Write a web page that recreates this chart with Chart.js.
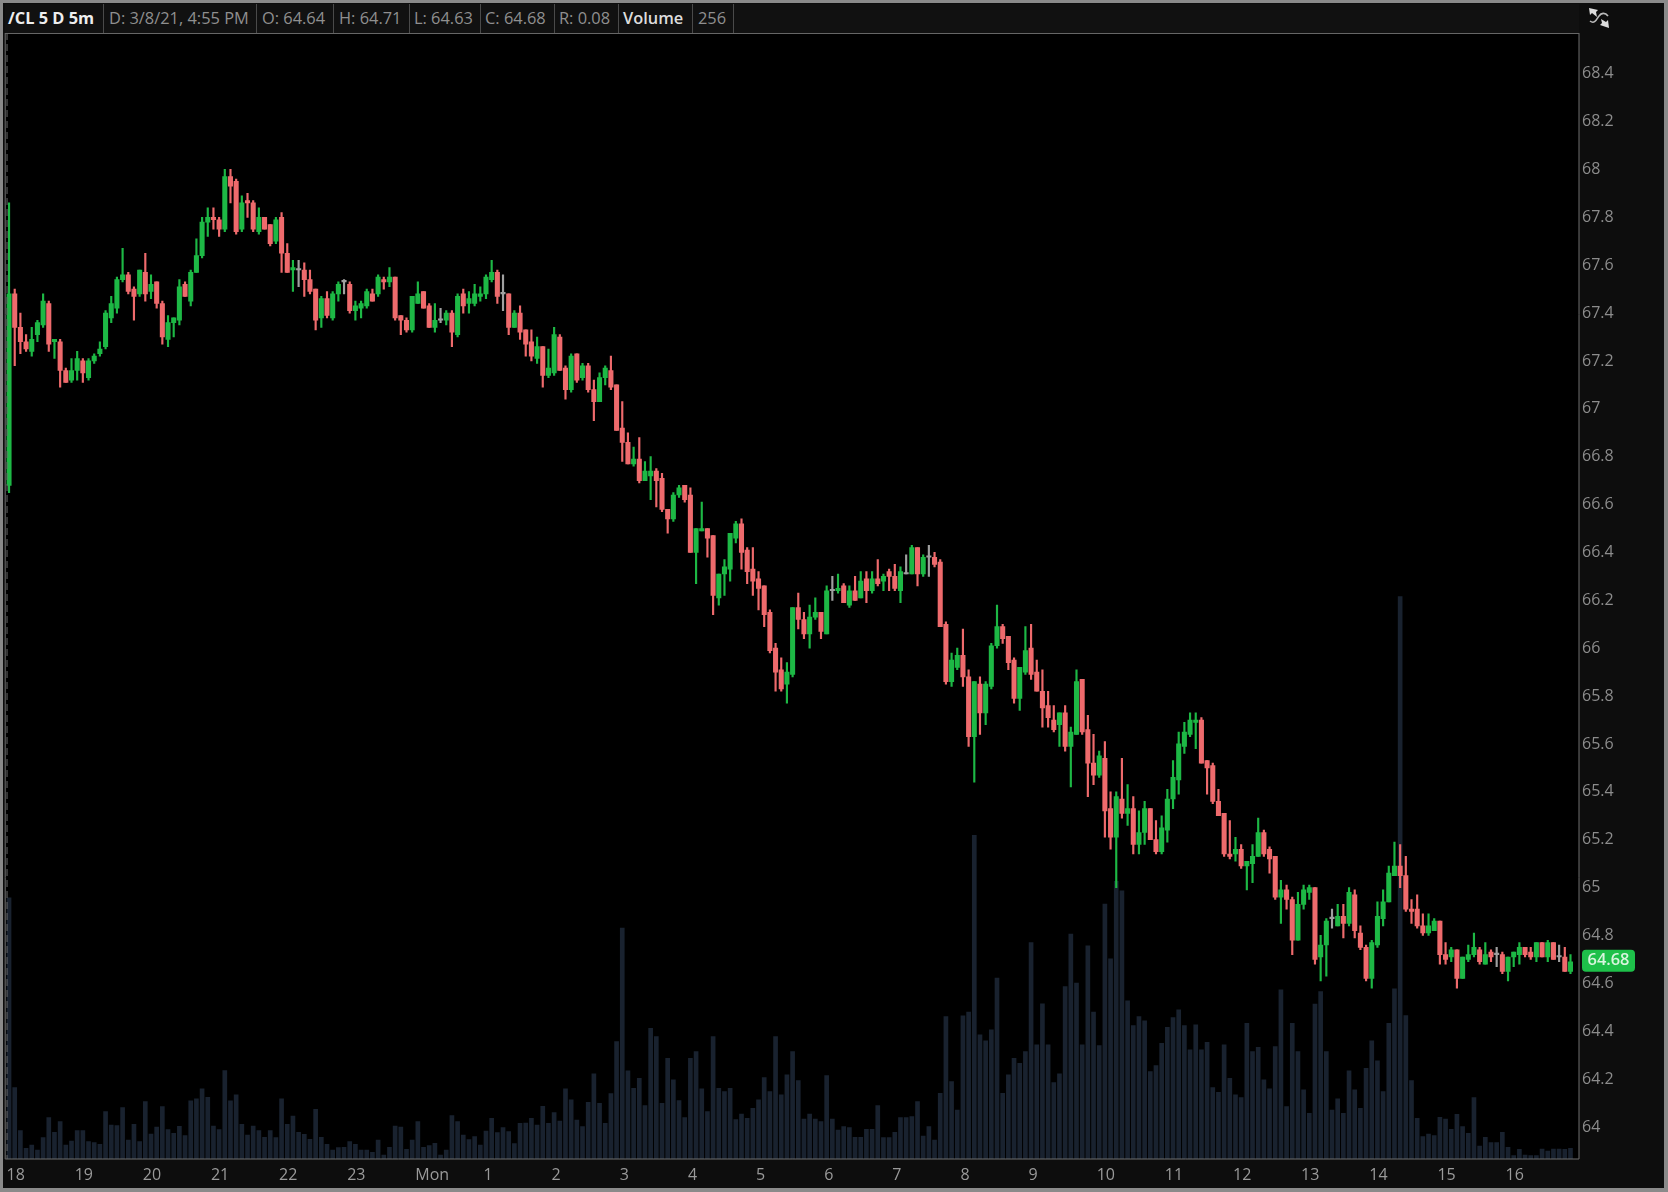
<!DOCTYPE html>
<html>
<head>
<meta charset="utf-8">
<title>/CL 5 D 5m</title>
<script src="https://cdn.jsdelivr.net/npm/chart.js@4"></script>
<style>
    html, body { margin: 0; padding: 0; width: 1668px; height: 1192px; overflow: hidden; background: #8a8a8a; }
    #tela { position: absolute; left: 0; top: 0; width: 1668px; height: 1192px; filter: blur(0.7px); }
    #painel { position: absolute; left: 3px; top: 3px; width: 1661px; height: 1185px; background: #0d0d0d; }
    #grafico { position: absolute; left: 0; top: 0; }
    #cabecalho { position: absolute; left: 5px; top: 4px; width: 1574px; height: 29px; background: #111; border-bottom: 1px solid #666;
        font: 16.4px "Open Sans", sans-serif; color: #8f8f8f; }
    #cabecalho span { position: absolute; top: 0; height: 29px; line-height: 27px; white-space: nowrap; }
    #cabecalho i { position: absolute; top: 0; width: 1px; height: 29px; background: #4a4a4a; }
    #cabecalho .forte { color: #eee; font-weight: 700; }
    #cabecalho .claro { color: #ddd; font-weight: 600; }
    #icone { position: absolute; left: 1583px; top: 4px; }
</style>
</head>
<body>
<div id="tela">
    <div id="painel"></div>
    <canvas id="grafico" width="1668" height="1192"></canvas>
    <div id="cabecalho">
        <span class="forte" style="left:3px">/CL 5 D 5m</span><i style="left:98px"></i>
        <span style="left:104px">D: 3/8/21, 4:55 PM</span><i style="left:251px"></i>
        <span style="left:257px">O: 64.64</span><i style="left:328px"></i>
        <span style="left:334px">H: 64.71</span><i style="left:404px"></i>
        <span style="left:409px">L: 64.63</span><i style="left:475px"></i>
        <span style="left:480px">C: 64.68</span><i style="left:549px"></i>
        <span style="left:554px">R: 0.08</span><i style="left:613px"></i>
        <span class="claro" style="left:618px">Volume</span><i style="left:687px"></i>
        <span style="left:693px">256</span><i style="left:728px"></i>
    </div>
    <svg id="icone" width="32" height="28" viewBox="0 0 32 28">
        <path d="M7 17 C12 21 14 14 16 12 C18 9 22 8 25 12" fill="none" stroke="#bbb" stroke-width="1.6"/>
        <path d="M6 4 L15 6 L13 8 L14 13 L9 9 L7 11 Z" fill="#ddd"/>
        <path d="M26 24 L17 21 L19 19 L18 15 L23 18 L25 16 Z" fill="#ddd"/>
    </svg>
</div>
<script>
// Dados: um grupo de 12 candles por hora
const rotulosHora = ['18', '19', '20', '21', '22', '23', 'Mon', '1', '2', '3', '4', '5', '6', '7', '8', '9', '10', '11', '12', '13', '14', '15', '16'];
const ticksPreco = [68.4, 68.2, 68, 67.8, 67.6, 67.4, 67.2, 67, 66.8, 66.6, 66.4, 66.2, 66, 65.8, 65.6, 65.4, 65.2, 65, 64.8, 64.6, 64.4, 64.2, 64];

const aberturas = [
    66.67,67.47,67.33,67.27,67.23,67.30,67.34,67.43,67.27,67.27,67.15,67.11,
    67.15,67.19,67.12,67.19,67.22,67.25,67.37,67.41,67.53,67.55,67.49,67.47,
    67.56,67.48,67.52,67.43,67.28,67.35,67.36,67.51,67.44,67.56,67.63,67.77,
    67.79,67.78,67.74,67.96,67.94,67.74,67.86,67.85,67.73,67.79,67.76,67.69,
    67.79,67.64,67.57,67.57,67.57,67.53,67.49,67.37,67.45,67.37,67.47,67.52,
    67.51,67.40,67.41,67.42,67.47,67.47,67.53,67.52,67.54,67.38,67.36,67.32,
    67.43,67.48,67.42,67.33,67.36,67.36,67.39,67.30,67.47,67.43,67.43,67.46,
    67.47,67.53,67.56,67.47,67.47,67.33,67.39,67.32,67.27,67.20,67.25,67.13,
    67.14,67.29,67.16,67.07,67.22,67.12,67.17,67.07,67.02,67.12,67.15,67.09,
    66.91,66.85,66.76,66.78,66.69,66.71,66.73,66.70,66.57,66.53,66.63,66.67,
    66.63,66.39,66.48,66.49,66.46,66.20,66.30,66.32,66.45,66.51,66.40,66.32,
    66.28,66.25,66.14,65.99,65.90,65.84,65.88,66.16,66.11,66.05,66.12,66.14,
    66.05,66.23,66.23,66.25,66.17,66.23,66.20,66.28,66.23,66.28,66.27,66.31,
    66.29,66.23,66.30,66.30,66.41,66.30,66.37,66.37,66.35,66.09,65.85,65.91,
    65.96,65.87,65.62,65.84,65.72,65.83,66.00,66.08,66.04,65.94,65.78,65.89,
    65.99,65.89,65.81,65.75,65.69,65.67,65.72,65.58,65.63,65.86,65.65,65.51,
    65.46,65.53,65.32,65.20,65.36,65.30,65.32,65.17,65.22,65.32,65.19,65.14,
    65.23,65.36,65.44,65.58,65.63,65.68,65.69,65.52,65.50,65.35,65.30,65.13,
    65.13,65.15,65.08,65.09,65.12,65.22,65.15,65.12,64.95,64.98,64.94,64.77,
    64.92,64.97,64.99,64.70,64.75,64.86,64.83,64.87,64.84,64.96,64.80,64.74,
    64.61,64.75,64.86,64.93,65.04,65.08,65.04,64.90,64.90,64.83,64.80,64.81,
    64.85,64.71,64.70,64.73,64.61,64.69,64.71,64.73,64.67,64.72,64.71,64.71,
    64.64,64.70,64.71,64.74,64.72,64.70,64.76,64.70,64.76,64.70,64.70,64.64
];
const maximas = [
    67.85,67.49,67.39,67.30,67.33,67.36,67.47,67.44,67.28,67.28,67.16,67.20,
    67.23,67.20,67.20,67.22,67.27,67.40,67.46,67.54,67.66,67.56,67.50,67.57,
    67.64,67.55,67.52,67.44,67.38,67.37,67.53,67.52,67.57,67.70,67.79,67.83,
    67.83,67.79,67.99,67.99,67.95,67.88,67.89,67.86,67.83,67.79,67.76,67.79,
    67.81,67.68,67.61,67.61,67.60,67.57,67.49,67.46,67.48,67.48,67.52,67.53,
    67.52,67.44,67.44,67.49,67.49,67.55,67.54,67.58,67.54,67.38,67.37,67.46,
    67.52,67.48,67.43,67.43,67.41,67.40,67.40,67.47,67.49,67.48,67.51,67.50,
    67.55,67.61,67.57,67.55,67.47,67.40,67.42,67.32,67.32,67.29,67.25,67.24,
    67.33,67.30,67.17,67.22,67.22,67.18,67.18,67.11,67.14,67.17,67.21,67.09,
    67.02,66.89,66.83,66.87,66.77,66.79,66.74,66.72,66.57,66.64,66.67,66.67,
    66.66,66.49,66.60,66.49,66.46,66.30,66.36,66.47,66.52,66.53,66.41,66.41,
    66.31,66.25,66.15,66.01,65.95,65.93,66.16,66.22,66.14,66.17,66.20,66.14,
    66.25,66.29,66.30,66.26,66.25,66.29,66.31,66.31,66.31,66.36,66.30,66.32,
    66.34,66.33,66.38,66.42,66.41,66.38,66.42,66.39,66.36,66.10,65.97,65.99,
    66.07,65.90,65.85,65.87,65.85,66.01,66.17,66.09,66.04,65.95,65.91,66.08,
    66.09,65.94,65.90,65.81,65.75,65.72,65.75,65.66,65.90,65.86,65.71,65.63,
    65.56,65.60,65.39,65.39,65.53,65.42,65.37,65.31,65.35,65.32,65.27,65.29,
    65.40,65.52,65.64,65.68,65.72,65.72,65.70,65.52,65.51,65.40,65.30,65.27,
    65.20,65.17,65.10,65.17,65.28,65.23,65.16,65.12,65.02,65.00,64.95,64.97,
    65.00,65.00,64.99,64.79,64.86,64.90,64.92,64.92,64.99,64.98,64.83,64.75,
    64.77,64.93,64.98,65.08,65.18,65.17,65.12,64.94,64.96,64.88,64.88,64.86,
    64.85,64.76,64.74,64.73,64.70,64.75,64.80,64.74,64.76,64.73,64.74,64.72,
    64.70,64.72,64.76,64.74,64.74,64.76,64.76,64.77,64.76,64.75,64.74,64.71
];
const minimas = [
    66.64,67.17,67.22,67.23,67.21,67.27,67.33,67.23,67.20,67.08,67.10,67.10,
    67.11,67.10,67.11,67.18,67.21,67.24,67.35,67.39,67.52,67.47,67.36,67.46,
    67.44,67.45,67.41,67.26,67.25,67.29,67.34,67.46,67.42,67.56,67.62,67.71,
    67.74,67.71,67.73,67.85,67.72,67.73,67.79,67.73,67.72,67.74,67.67,67.68,
    67.56,67.56,67.48,67.50,67.46,67.47,67.32,67.33,67.37,67.36,67.44,67.47,
    67.39,67.36,67.37,67.41,67.44,67.46,67.49,67.50,67.36,67.30,67.31,67.31,
    67.43,67.41,67.33,67.31,67.35,67.34,67.25,67.29,67.39,67.39,67.42,67.44,
    67.45,67.52,67.43,67.40,67.30,67.33,67.28,67.21,67.19,67.18,67.08,67.12,
    67.13,67.15,67.03,67.06,67.10,67.11,67.06,66.94,67.02,67.09,67.07,66.90,
    66.77,66.76,66.75,66.68,66.69,66.61,66.58,66.56,66.47,66.52,66.62,66.60,
    66.39,66.26,66.48,66.37,66.13,66.17,66.21,66.27,66.43,66.32,66.26,66.21,
    66.15,66.08,65.97,65.81,65.81,65.76,65.87,66.07,66.03,65.99,66.11,66.03,
    66.05,66.19,66.22,66.18,66.16,66.19,66.20,66.18,66.22,66.25,66.23,66.23,
    66.23,66.18,66.30,66.30,66.25,66.29,66.29,66.33,66.08,65.84,65.83,65.90,
    65.83,65.58,65.43,65.63,65.67,65.82,65.99,66.01,65.90,65.76,65.73,65.88,
    65.86,65.81,65.66,65.66,65.64,65.58,65.56,65.41,65.63,65.63,65.37,65.42,
    65.45,65.20,65.15,64.99,65.28,65.25,65.13,65.13,65.17,65.19,65.13,65.13,
    65.18,65.32,65.38,65.55,65.62,65.57,65.51,65.38,65.34,65.29,65.12,65.11,
    65.10,65.07,64.98,65.01,65.12,65.12,65.05,64.94,64.84,64.90,64.71,64.77,
    64.90,64.94,64.67,64.60,64.62,64.82,64.83,64.78,64.83,64.78,64.73,64.60,
    64.57,64.74,64.83,64.93,65.04,64.99,64.89,64.84,64.82,64.79,64.79,64.81,
    64.67,64.67,64.68,64.57,64.61,64.68,64.70,64.67,64.67,64.68,64.66,64.63,
    64.60,64.66,64.67,64.70,64.69,64.68,64.70,64.68,64.69,64.68,64.64,64.63
];
const fechamentos = [
    67.47,67.33,67.27,67.24,67.28,67.35,67.44,67.26,67.28,67.15,67.10,67.15,
    67.20,67.14,67.19,67.21,67.24,67.39,67.43,67.53,67.55,67.48,67.46,67.57,
    67.47,67.51,67.43,67.29,67.35,67.37,67.50,67.46,67.56,67.63,67.77,67.79,
    67.78,67.74,67.96,67.92,67.73,67.85,67.85,67.74,67.79,67.74,67.68,67.78,
    67.64,67.56,67.58,67.57,67.53,67.48,67.36,67.45,67.38,67.47,67.51,67.52,
    67.40,67.42,67.43,67.48,67.44,67.54,67.52,67.54,67.37,67.36,67.32,67.46,
    67.47,67.41,67.33,67.36,67.36,67.39,67.31,67.46,67.42,67.45,67.47,67.47,
    67.54,67.56,67.46,67.47,67.33,67.39,67.31,67.26,67.21,67.25,67.13,67.16,
    67.30,67.15,67.07,67.21,67.11,67.17,67.07,67.02,67.12,67.16,67.08,66.90,
    66.85,66.76,66.78,66.69,66.73,66.73,66.69,66.57,66.53,66.63,66.66,66.61,
    66.39,66.49,66.49,66.45,66.21,66.30,66.33,66.47,66.51,66.39,66.31,66.27,
    66.24,66.13,65.98,65.89,65.82,65.89,66.16,66.11,66.05,66.12,66.14,66.06,
    66.23,66.23,66.24,66.18,66.23,66.19,66.27,66.23,66.28,66.26,66.29,66.29,
    66.24,66.31,66.30,66.41,66.30,66.37,66.37,66.34,66.08,65.85,65.94,65.96,
    65.87,65.62,65.85,65.72,65.84,66.00,66.08,66.03,65.93,65.78,65.91,65.98,
    65.88,65.81,65.74,65.70,65.65,65.72,65.58,65.64,65.85,65.64,65.51,65.46,
    65.54,65.31,65.20,65.37,65.30,65.32,65.17,65.22,65.32,65.19,65.14,65.24,
    65.36,65.45,65.59,65.64,65.69,65.69,65.51,65.49,65.35,65.29,65.13,65.12,
    65.15,65.08,65.10,65.12,65.22,65.13,65.11,64.95,64.98,64.94,64.77,64.92,
    64.98,64.99,64.69,64.75,64.85,64.86,64.87,64.84,64.97,64.81,64.74,64.61,
    64.76,64.87,64.93,65.05,65.08,65.04,64.90,64.89,64.83,64.80,64.83,64.85,
    64.71,64.69,64.73,64.61,64.70,64.71,64.74,64.68,64.71,64.70,64.71,64.64,
    64.70,64.72,64.74,64.71,64.70,64.76,64.70,64.76,64.69,64.70,64.64,64.68
];
const volumes = [
    6260,1712,680,256,336,216,512,992,640,896,336,432,
    680,680,416,392,352,1136,816,800,1232,456,832,416,
    1376,600,768,1256,704,616,784,560,1392,1440,1680,1480,
    792,704,2120,1392,1536,832,576,792,680,520,680,512,
    1440,832,1032,640,592,472,1192,520,352,216,272,280,
    416,352,216,216,160,456,96,280,792,768,232,456,
    896,280,320,376,96,216,1040,896,576,464,536,336,
    672,976,632,752,656,368,856,864,976,816,1264,856,
    1112,912,1680,1416,936,776,1360,2040,1336,856,1568,2816,
    5536,2112,1696,1936,1280,3136,2936,1336,2416,1896,1400,992,
    2416,2576,1680,1136,2936,1696,1616,1696,944,1080,976,1216,
    1416,1952,1616,2936,1536,2016,2576,1880,960,1080,960,896,
    2000,960,696,776,752,520,520,712,712,1280,512,512,
    640,992,992,1016,1376,552,776,456,1576,3416,1856,1176,
    3432,3520,7760,2976,2832,3096,4336,1576,2016,2416,2296,2576,
    5192,2736,3720,2736,1832,2040,4136,5392,4216,2736,5112,3520,
    2720,6112,4800,6656,6432,3792,3200,3416,3312,2096,2240,2776,
    3160,3392,3576,3200,2616,3216,2616,2800,1712,1600,2736,1936,
    1536,1472,3256,2576,2680,1896,1680,2696,4056,1256,3256,2576,
    1656,1096,3712,4016,2576,1176,1440,1096,2112,1656,1216,2176,
    2832,2352,1616,3256,4080,13488,3440,1880,976,536,600,560,
    1000,960,712,1072,776,616,1472,312,520,392,392,640,
    280,80,232,96,80,80,240,192,240,240,232,256
];

const CANDLES_POR_HORA = 12;
const VERDE = '#1db845';
const VERMELHO = '#ee6a6c';
const CINZA = '#a0a0a0';

document.addEventListener('DOMContentLoaded', function() {
    inicializarGrafico();
});

// Cor do candle conforme abertura e fechamento
function corCandle(context) {
    const i = context.dataIndex;
    if (fechamentos[i] > aberturas[i]) return VERDE;
    if (fechamentos[i] < aberturas[i]) return VERMELHO;
    return CINZA;
}

// Fundo preto, linha tracejada da sessão e etiqueta do último preço
const pluginMoldura = {
    id: 'moldura',
    beforeDatasetsDraw(chart) {
        const { ctx, chartArea: a } = chart;
        ctx.save();
        ctx.fillStyle = '#000';
        ctx.fillRect(a.left, a.top, a.right - a.left, a.bottom - a.top);
        ctx.restore();
    },
    afterDraw(chart) {
        const { ctx, chartArea: a, scales } = chart;
        ctx.save();

        // bordas do gráfico
        ctx.strokeStyle = '#6e6e6e';
        ctx.lineWidth = 1;
        ctx.beginPath();
        ctx.moveTo(a.left - 1, a.top);
        ctx.lineTo(a.left - 1, a.bottom);
        ctx.lineTo(a.right, a.bottom);
        ctx.lineTo(a.right, a.top);
        ctx.stroke();

        // linha tracejada no início da sessão
        const xSessao = scales.x.getPixelForValue(0) - 2;
        ctx.strokeStyle = '#6a6a6a';
        ctx.setLineDash([7, 4]);
        ctx.beginPath();
        ctx.moveTo(xSessao, a.top);
        ctx.lineTo(xSessao, a.bottom);
        ctx.stroke();
        ctx.setLineDash([]);

        // etiqueta do último preço
        const ultimo = fechamentos[fechamentos.length - 1];
        const y = scales.y.getPixelForValue(ultimo) - 1;
        ctx.fillStyle = '#1ec04a';
        ctx.beginPath();
        ctx.roundRect(a.right + 3, y - 11, 53, 22, 4);
        ctx.fill();
        ctx.fillStyle = '#d8f5de';
        ctx.font = '600 16.4px "Open Sans", sans-serif';
        ctx.textAlign = 'center';
        ctx.textBaseline = 'middle';
        ctx.fillText(ultimo.toFixed(2), a.right + 29.5, y);
        ctx.restore();
    }
};

function inicializarGrafico() {
    const ctx = document.getElementById('grafico').getContext('2d');

    // um espaço vazio no fim, como na imagem
    const rotulos = [];
    for (let i = 0; i <= fechamentos.length; i++) {
        rotulos.push(i % CANDLES_POR_HORA === 0 ? (rotulosHora[i / CANDLES_POR_HORA] || '') : '');
    }

    new Chart(ctx, {
        type: 'bar',
        data: {
            labels: rotulos,
            datasets: [
                {
                    label: 'Volume',
                    data: volumes,
                    yAxisID: 'vol',
                    backgroundColor: '#19222f',
                    barThickness: 4,
                    grouped: false,
                    order: 3
                },
                {
                    label: 'Pavio',
                    data: minimas.map((l, i) => [l, maximas[i]]),
                    yAxisID: 'y',
                    backgroundColor: corCandle,
                    barThickness: 1.5,
                    grouped: false,
                    order: 2
                },
                {
                    label: 'Corpo',
                    data: aberturas.map((o, i) => [o, fechamentos[i]]),
                    yAxisID: 'y',
                    backgroundColor: corCandle,
                    barThickness: 4.4,
                    minBarLength: 1.5,
                    grouped: false,
                    order: 1
                }
            ]
        },
        options: {
            responsive: false,
            animation: false,
            devicePixelRatio: 1,
            layout: { padding: { left: 6.2, top: 33, right: 0, bottom: 0 } },
            plugins: { legend: { display: false }, tooltip: { enabled: false } },
            scales: {
                x: {
                    grid: { display: false, drawTicks: false },
                    border: { display: false },
                    afterFit(scale) { scale.height = 33; },
                    ticks: {
                        autoSkip: false,
                        maxRotation: 0,
                        align: 'start',
                        padding: 7,
                        labelOffset: -2.5,
                        color: '#9a9a9a',
                        font: { family: '"Open Sans", sans-serif', size: 16 },
                        callback(value, index) { return rotulos[index]; }
                    }
                },
                y: {
                    position: 'right',
                    min: 63.856,
                    max: 68.56,
                    grid: { display: false, drawTicks: false },
                    border: { display: false },
                    afterFit(scale) { scale.width = 89; },
                    afterBuildTicks(scale) { scale.ticks = ticksPreco.map(v => ({ value: v })); },
                    ticks: {
                        padding: 3,
                        labelOffset: 2.5,
                        color: '#8c8c8c',
                        font: { family: '"Open Sans", sans-serif', size: 16 },
                        callback(value) { return String(value); }
                    }
                },
                vol: {
                    display: false,
                    position: 'left',
                    min: 0,
                    max: 27000
                }
            }
        },
        plugins: [pluginMoldura]
    });
}
</script>
</body>
</html>
